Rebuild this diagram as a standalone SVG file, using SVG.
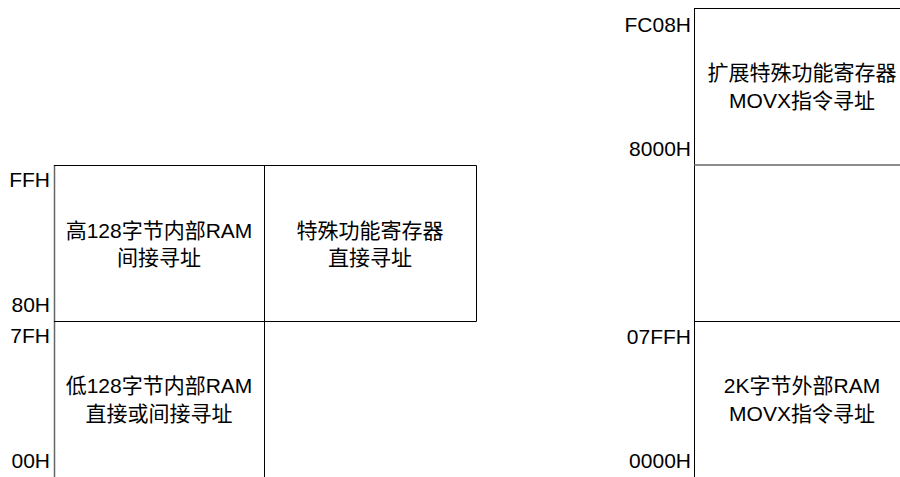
<svg xmlns="http://www.w3.org/2000/svg" width="900" height="477" viewBox="0 0 900 477">
<style>
text{font-family:"Liberation Sans","Noto Sans CJK SC",sans-serif;font-size:21px;fill:#000}
.c{text-anchor:middle}
.r{text-anchor:end}
.ln{stroke:#000;stroke-width:1;fill:none}
.lg{stroke:#666;stroke-width:1.5;fill:none}
</style>
<rect width="900" height="477" fill="#fff"/>
<g id="grid">
<path class="lg" d="M54.5 165V477"/>
<path class="ln" d="M54 165.5H476.5V321.5M54 321.5H476.5M264.5 165V477"/>
<path class="ln" d="M694.5 8V477M694 8.5H900M694 321.5H900"/>
<path class="lg" d="M694 165H900"/>
</g>
<g id="addr-left">
<text class="r" x="50" y="187">FFH</text>
<text class="r" x="50" y="312">80H</text>
<text class="r" x="50" y="343">7FH</text>
<text class="r" x="50" y="468">00H</text>
</g>
<g id="addr-right">
<text class="r" x="691" y="32">FC08H</text>
<text class="r" x="691" y="156">8000H</text>
<text class="r" x="691" y="344">07FFH</text>
<text class="r" x="691" y="468">0000H</text>
</g>
<g id="upper-ram">
<text class="c" x="159" y="238">高128字节内部RAM</text>
<text class="c" x="159" y="265">间接寻址</text>
</g>
<g id="sfr">
<text class="c" x="370" y="238">特殊功能寄存器</text>
<text class="c" x="370" y="265">直接寻址</text>
</g>
<g id="lower-ram">
<text class="c" x="159" y="393">低128字节内部RAM</text>
<text class="c" x="159" y="421">直接或间接寻址</text>
</g>
<g id="ext-sfr">
<text class="c" x="802" y="80">扩展特殊功能寄存器</text>
<text class="c" x="802" y="108">MOVX指令寻址</text>
</g>
<g id="ext-ram">
<text class="c" x="802" y="393">2K字节外部RAM</text>
<text class="c" x="802" y="421">MOVX指令寻址</text>
</g>
</svg>
